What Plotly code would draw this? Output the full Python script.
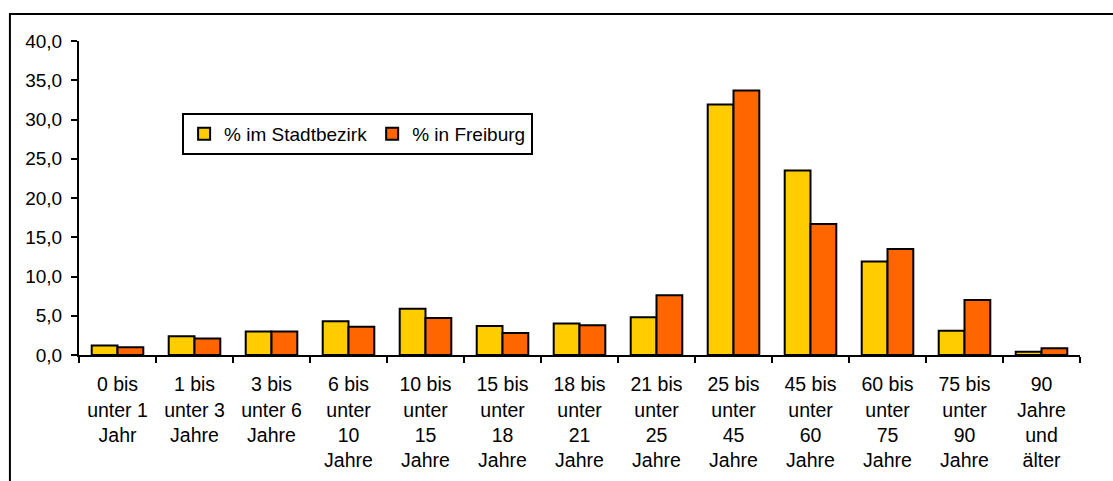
import plotly.graph_objects as go

categories = [
    "0 bis<br>unter 1<br>Jahr", "1 bis<br>unter 3<br>Jahre", "3 bis<br>unter 6<br>Jahre",
    "6 bis<br>unter<br>10<br>Jahre", "10 bis<br>unter<br>15<br>Jahre", "15 bis<br>unter<br>18<br>Jahre",
    "18 bis<br>unter<br>21<br>Jahre", "21 bis<br>unter<br>25<br>Jahre", "25 bis<br>unter<br>45<br>Jahre",
    "45 bis<br>unter<br>60<br>Jahre", "60 bis<br>unter<br>75<br>Jahre", "75 bis<br>unter<br>90<br>Jahre",
    "90<br>Jahre<br>und<br>älter",
]
stadtbezirk = [1.2, 2.4, 3.0, 4.3, 5.9, 3.7, 4.0, 4.8, 31.9, 23.5, 11.9, 3.1, 0.4]
freiburg = [1.0, 2.1, 3.0, 3.6, 4.7, 2.8, 3.8, 7.6, 33.7, 16.7, 13.5, 7.0, 0.85]
y_ticks = [0, 5, 10, 15, 20, 25, 30, 35, 40]
y_ticktext = ["0,0", "5,0", "10,0", "15,0", "20,0", "25,0", "30,0", "35,0", "40,0"]

FONT = "Liberation Sans, Arial, sans-serif"

fig = go.Figure()
fig.add_trace(go.Bar(name="% im Stadtbezirk", x=categories, y=stadtbezirk,
                     marker=dict(color="#FFCC00", line=dict(color="black", width=2))))
fig.add_trace(go.Bar(name="% in Freiburg", x=categories, y=freiburg,
                     marker=dict(color="#FF6600", line=dict(color="black", width=2))))

fig.update_layout(
    width=1113, height=481,
    margin=dict(l=79, r=33, t=41, b=126),
    paper_bgcolor="white", plot_bgcolor="white",
    barmode="group", bargap=0.33, bargroupgap=0,
    font=dict(family=FONT, size=19, color="black"),
    showlegend=True,
    legend=dict(orientation="h", x=0.103, y=0.771, xanchor="left", yanchor="top",
                bordercolor="black", borderwidth=2, bgcolor="white",
                font=dict(size=19), itemwidth=30, tracegroupgap=0),
)
fig.update_xaxes(showline=True, linecolor="black", linewidth=2, ticks="outside",
                 tickson="boundaries", ticklen=6, tickwidth=2, tickcolor="black",
                 showgrid=False, tickangle=0, tickfont=dict(size=19.5),
                 ticklabelstandoff=11, automargin=False)
fig.update_yaxes(range=[0, 40], tickvals=y_ticks, ticktext=y_ticktext,
                 showline=True, linecolor="black", linewidth=2, ticks="outside",
                 ticklen=6, tickwidth=2, tickcolor="black", showgrid=False,
                 zeroline=False, tickfont=dict(size=19), ticklabelstandoff=5,
                 automargin=False)

# outer frame (cut off at the right and bottom)
fig.add_shape(type="rect", xref="paper", yref="paper",
              x0=-0.069, x1=1.2, y0=-0.5, y1=1.086,
              line=dict(color="black", width=2), layer="below")

fig.write_html("out.html", config={"displayModeBar": False},
               post_script="document.body.style.margin='0';")
